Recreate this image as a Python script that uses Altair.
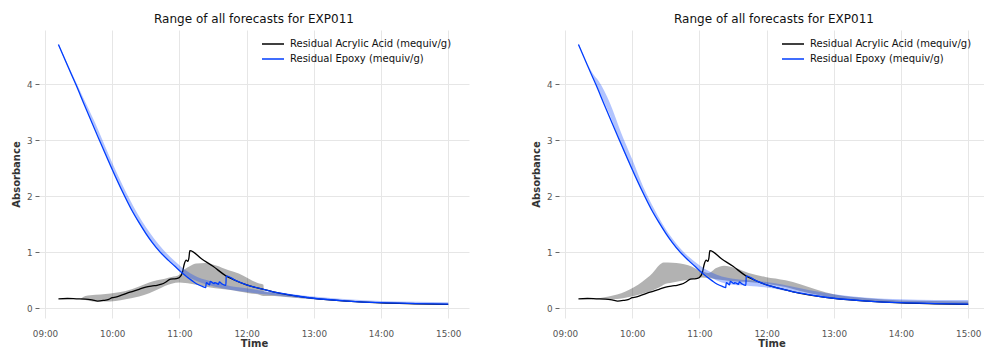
import altair as alt
import pandas as pd

TITLE = "Range of all forecasts for EXP011"
SERIES = ["Residual Acrylic Acid (mequiv/g)", "Residual Epoxy (mequiv/g)"]
COLORS = ["#000000", "#003DFD"]
Y_TICKS = [0, 1, 2, 3, 4]
X_TICK_HOURS = [9, 10, 11, 12, 13, 14, 15]

# ---- observed series (minutes after 09:00, value) ----
acid_t = [12, 20, 28, 36, 42, 47, 52, 57, 60, 63, 69, 76, 84, 90, 96, 100, 104, 108,
          112, 117, 120, 122.5, 124.5, 126, 127.5, 128.5, 129.3, 140, 150, 161.5,
          170, 180, 195, 210, 225, 240, 270, 300, 330, 360]
acid_v = [0.167, 0.175, 0.17, 0.165, 0.15, 0.13, 0.14, 0.16, 0.19, 0.2, 0.24, 0.29,
          0.34, 0.38, 0.40, 0.41, 0.43, 0.47, 0.52, 0.53, 0.55, 0.63, 0.80, 0.86,
          0.84, 0.90, 1.03, 0.88, 0.75, 0.58,
          0.497, 0.417, 0.337, 0.267, 0.217, 0.177, 0.127, 0.096, 0.081, 0.07]

epoxy_t = [12, 20, 27.5, 35, 48, 60, 69, 77, 84, 90, 96, 103, 110, 116, 122.5, 131.5,
           136, 140.5, 143.5, 144, 147, 147.5, 151, 151.5, 155, 155.5, 158.5, 161.5,
           161.8, 170, 180, 195, 210, 225, 240, 270, 300, 330, 360]
epoxy_v = [4.71, 4.34, 4.00, 3.64, 3.03, 2.48, 2.09, 1.77, 1.53, 1.34, 1.17, 1.00, 0.86,
           0.75, 0.63, 0.49, 0.43, 0.39, 0.37, 0.46, 0.42, 0.48, 0.44, 0.46, 0.43,
           0.47, 0.43, 0.41, 0.58, 0.50, 0.42, 0.34, 0.27, 0.22, 0.18, 0.13, 0.10,
           0.085, 0.075]

# ---- left panel forecast ranges ----
l_acid_t = [32, 36, 45, 54, 63, 72, 84, 93, 100, 107, 113, 120, 125, 130, 135, 143,
            152, 164, 173, 182, 190, 195, 195.5, 205, 215, 240, 270, 300, 330]
l_acid_lo = [0.16, 0.15, 0.12, 0.12, 0.13, 0.16, 0.21, 0.27, 0.33, 0.40, 0.44, 0.46,
             0.45, 0.44, 0.42, 0.39, 0.36, 0.33, 0.30, 0.27, 0.25, 0.22, 0.22, 0.22,
             0.20, 0.16, 0.12, 0.09, 0.08]
l_acid_hi = [0.17, 0.22, 0.24, 0.255, 0.28, 0.31, 0.39, 0.46, 0.50, 0.53, 0.56, 0.60,
             0.70, 0.76, 0.80, 0.81, 0.77, 0.68, 0.62, 0.53, 0.45, 0.42, 0.30, 0.28,
             0.24, 0.19, 0.14, 0.11, 0.10]

l_epoxy_t = [12, 30, 45, 60, 75, 90, 105, 115, 125, 135, 145, 155, 165, 180, 195, 210,
             225, 240, 270, 300, 330, 360]
l_epoxy_lo = [4.69, 3.88, 3.20, 2.47, 1.84, 1.32, 0.95, 0.76, 0.60, 0.49, 0.42, 0.37,
              0.33, 0.29, 0.25, 0.22, 0.19, 0.16, 0.12, 0.09, 0.08, 0.07]
l_epoxy_hi = [4.72, 3.94, 3.30, 2.60, 1.97, 1.45, 1.06, 0.86, 0.69, 0.57, 0.50, 0.45,
              0.40, 0.36, 0.31, 0.28, 0.24, 0.21, 0.16, 0.13, 0.115, 0.11]

# ---- right panel forecast ranges ----
r_acid_t = [24, 39, 54, 69, 78, 84, 88, 96, 110, 122, 128, 135, 142, 152, 164, 179,
            197, 210, 225, 240, 270, 300, 330, 360]
r_acid_lo = [0.16, 0.16, 0.19, 0.26, 0.32, 0.37, 0.42, 0.46, 0.51, 0.55, 0.54, 0.52,
             0.50, 0.48, 0.47, 0.44, 0.38, 0.31, 0.24, 0.18, 0.13, 0.10, 0.08, 0.07]
r_acid_hi = [0.165, 0.21, 0.30, 0.475, 0.625, 0.77, 0.82, 0.815, 0.77, 0.66, 0.63,
             0.72, 0.76, 0.72, 0.63, 0.56, 0.50, 0.43, 0.33, 0.25, 0.18, 0.14, 0.13, 0.12]

r_epoxy_t = [12, 25, 30, 40, 50, 60, 70, 80, 90, 100, 110, 120, 130, 140, 150, 165,
             180, 195, 210, 225, 240, 270, 300, 330, 360]
r_epoxy_lo = [4.70, 4.14, 3.90, 3.45, 2.92, 2.47, 2.04, 1.66, 1.33, 1.06, 0.85, 0.68,
              0.55, 0.46, 0.42, 0.40, 0.37, 0.32, 0.27, 0.22, 0.17, 0.12, 0.09, 0.08, 0.07]
r_epoxy_hi = [4.73, 4.19, 4.06, 3.67, 3.14, 2.66, 2.16, 1.76, 1.41, 1.14, 0.93, 0.77,
              0.65, 0.57, 0.53, 0.50, 0.47, 0.42, 0.36, 0.30, 0.25, 0.19, 0.16, 0.15, 0.15]

BASE = pd.Timestamp("2024-01-01 09:00:00")


def stamps(mins):
    return [(BASE + pd.Timedelta(minutes=m)).strftime("%Y-%m-%dT%H:%M:%S") for m in mins]


def line_df(t, v, name):
    return pd.DataFrame({"time": stamps(t), "value": v, "series": name, "i": range(len(t))})


def band_df(t, lo, hi):
    return pd.DataFrame({"time": stamps(t), "lo": lo, "hi": hi})


FONT = "DejaVu Sans"
y_scale = alt.Scale(domain=[-0.173, 4.97], nice=False, zero=False)
y_axis = alt.Axis(values=Y_TICKS, title="Absorbance", grid=True, domain=False,
                  ticks=True, tickSize=4, tickColor="#666", labelPadding=3,
                  titlePadding=5)
x_vals = [alt.DateTime(year=2024, month=1, date=1, hours=h) for h in X_TICK_HOURS]


def panel(acid_band, epoxy_band, x_end, width, title_dx=0):
    x_scale = alt.Scale(domain=[alt.DateTime(year=2024, month=1, date=1, hours=8, minutes=54, seconds=38),
                                x_end], nice=False)
    x_axis = alt.Axis(values=x_vals, format="%H:%M", title="Time", grid=True,
                      domain=False, ticks=False, labelPadding=11, titlePadding=1)
    x = alt.X("time:T", scale=x_scale, axis=x_axis)
    color = alt.Color("series:N", scale=alt.Scale(domain=SERIES, range=COLORS),
                      legend=alt.Legend(title=None, orient="none", legendX=229, legendY=9,
                                        symbolType="M-2.75,0H2.75", symbolSize=64,
                                        symbolStrokeWidth=1.5, labelFontSize=10,
                                        labelFont=FONT, labelColor="#111", labelLimit=400,
                                        labelOffset=12, rowPadding=5, padding=0))
    gray = alt.Chart(acid_band).mark_area(color="#000000", opacity=0.3,
                                          interpolate="monotone").encode(
        x=x, y=alt.Y("lo:Q", scale=y_scale, axis=y_axis), y2="hi:Q")
    blue_band = alt.Chart(epoxy_band).mark_area(color="#003DFD", opacity=0.3,
                                                interpolate="monotone").encode(
        x=x, y=alt.Y("lo:Q", scale=y_scale, axis=y_axis), y2="hi:Q")
    black = alt.Chart(line_df(acid_t, acid_v, SERIES[0])).mark_line(
        strokeWidth=1.3, interpolate="monotone").encode(
        x=x, y=alt.Y("value:Q", scale=y_scale, axis=y_axis), color=color, order="i:Q")
    blue = alt.Chart(line_df(epoxy_t, epoxy_v, SERIES[1])).mark_line(
        strokeWidth=1.3, interpolate="monotone").encode(
        x=x, y=alt.Y("value:Q", scale=y_scale, axis=y_axis), color=color, order="i:Q")
    return alt.layer(gray, black, blue_band, blue).properties(
        width=width, height=288,
        title=alt.TitleParams(TITLE, fontSize=12, font=FONT, color="#111",
                              fontWeight="normal", offset=4, dx=title_dx))


left = panel(band_df(l_acid_t, l_acid_lo, l_acid_hi),
             band_df(l_epoxy_t, l_epoxy_lo, l_epoxy_hi),
             alt.DateTime(year=2024, month=1, date=1, hours=15, minutes=18, seconds=34), 430)
right = panel(band_df(r_acid_t, r_acid_lo, r_acid_hi),
              band_df(r_epoxy_t, r_epoxy_lo, r_epoxy_hi),
              alt.DateTime(year=2024, month=1, date=1, hours=15, minutes=14, seconds=6), 425,
              title_dx=2.5)

chart = alt.hconcat(left, right, spacing=62).properties(
    padding={"left": 11, "top": 13, "right": 0, "bottom": 0}
).configure(font=FONT).configure_view(stroke=None).configure_axis(
    labelFont=FONT, labelFontSize=8.8, labelColor="#555",
    titleFont=FONT, titleFontSize=10, titleFontWeight="bold", titleColor="#333",
    gridColor="#e6e6e6", gridWidth=1
).resolve_scale(color="shared").resolve_legend(color="independent")

chart.save("out.html", embed_options={"renderer": "svg", "actions": False})
